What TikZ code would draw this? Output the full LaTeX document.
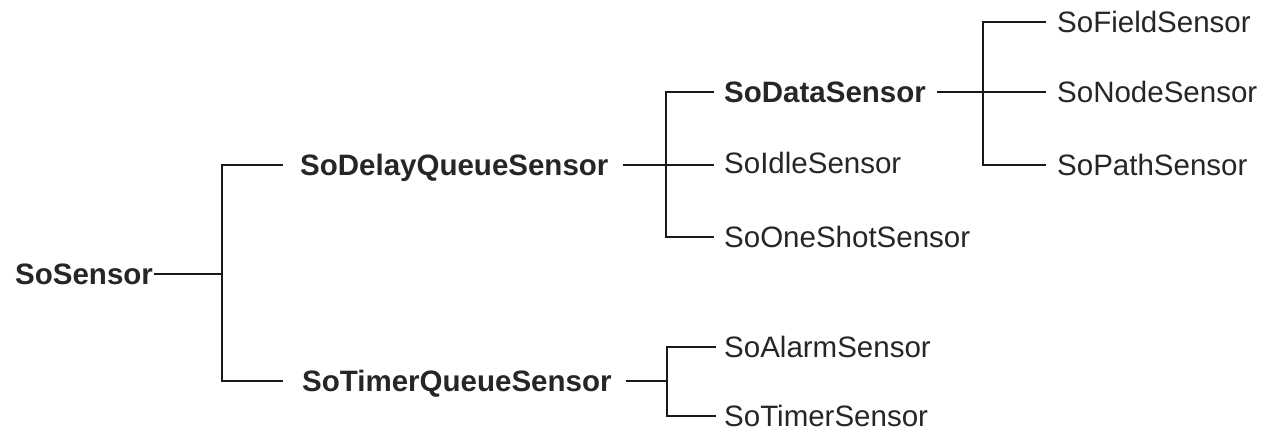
\documentclass[tikz,border=0pt]{standalone}
\usepackage{fontspec}
\setmainfont{Liberation Sans}
\begin{document}
\begin{tikzpicture}[x=1pt,y=-1pt,
  cls/.style={anchor=west,inner sep=0pt,text height=21pt,text depth=0pt,
    font=\fontsize{29.5}{34}\selectfont,text=black!85},
  abstract/.style={cls,font=\fontsize{29.5}{34}\selectfont\bfseries},
  link/.style={draw=black!90,line width=2pt}]
\useasboundingbox (0,0) rectangle (1266,435);

% class names
\node[abstract] (root) at (15,274) {SoSensor};
\node[abstract] (dq)   at (300,165) {SoDelayQueueSensor};
\node[abstract] (tq)   at (302,381) {SoTimerQueueSensor};
\node[abstract] (data) at (724,92)  {SoDataSensor};
\node[cls] (idle)    at (724,163) {SoIdleSensor};
\node[cls] (oneshot) at (724,237) {SoOneShotSensor};
\node[cls] (alarm)   at (724,347) {SoAlarmSensor};
\node[cls] (timer)   at (724,416) {SoTimerSensor};
\node[cls] (field)   at (1057,22)  {SoFieldSensor};
\node[cls] (nodes)   at (1057,92)  {SoNodeSensor};
\node[cls] (path)    at (1057,165) {SoPathSensor};

% x positions of the vertical bars
\coordinate (f1) at (222,0);
\coordinate (f2) at (666,0);
\coordinate (f3) at (667,0);
\coordinate (f4) at (983,0);

% SoSensor subclasses
\draw[link] ([xshift=1pt]root.east) -- (root.east -| f1) |- ([xshift=-17pt]dq.west);
\draw[link] (root.east -| f1) |- ([xshift=-19pt]tq.west);

% SoDelayQueueSensor subclasses
\draw[link] ([xshift=14pt]dq.east) -- (dq.east -| f2) |- ([xshift=-10pt]data.west);
\draw[link] (dq.east -| f2) -- ([xshift=-10pt]idle.west |- dq.east);
\draw[link] (dq.east -| f2) |- ([xshift=-10pt]oneshot.west);

% SoTimerQueueSensor subclasses
\draw[link] ([xshift=14pt]tq.east) -- (tq.east -| f3) |- ([xshift=-8pt]alarm.west);
\draw[link] (tq.east -| f3) |- ([xshift=-8pt]timer.west);

% SoDataSensor subclasses
\draw[link] ([xshift=11pt]data.east) -- (data.east -| f4) |- ([xshift=-11pt]field.west);
\draw[link] (data.east -| f4) -- ([xshift=-11pt]nodes.west |- data.east);
\draw[link] (data.east -| f4) |- ([xshift=-11pt]path.west);
\end{tikzpicture}
\end{document}
